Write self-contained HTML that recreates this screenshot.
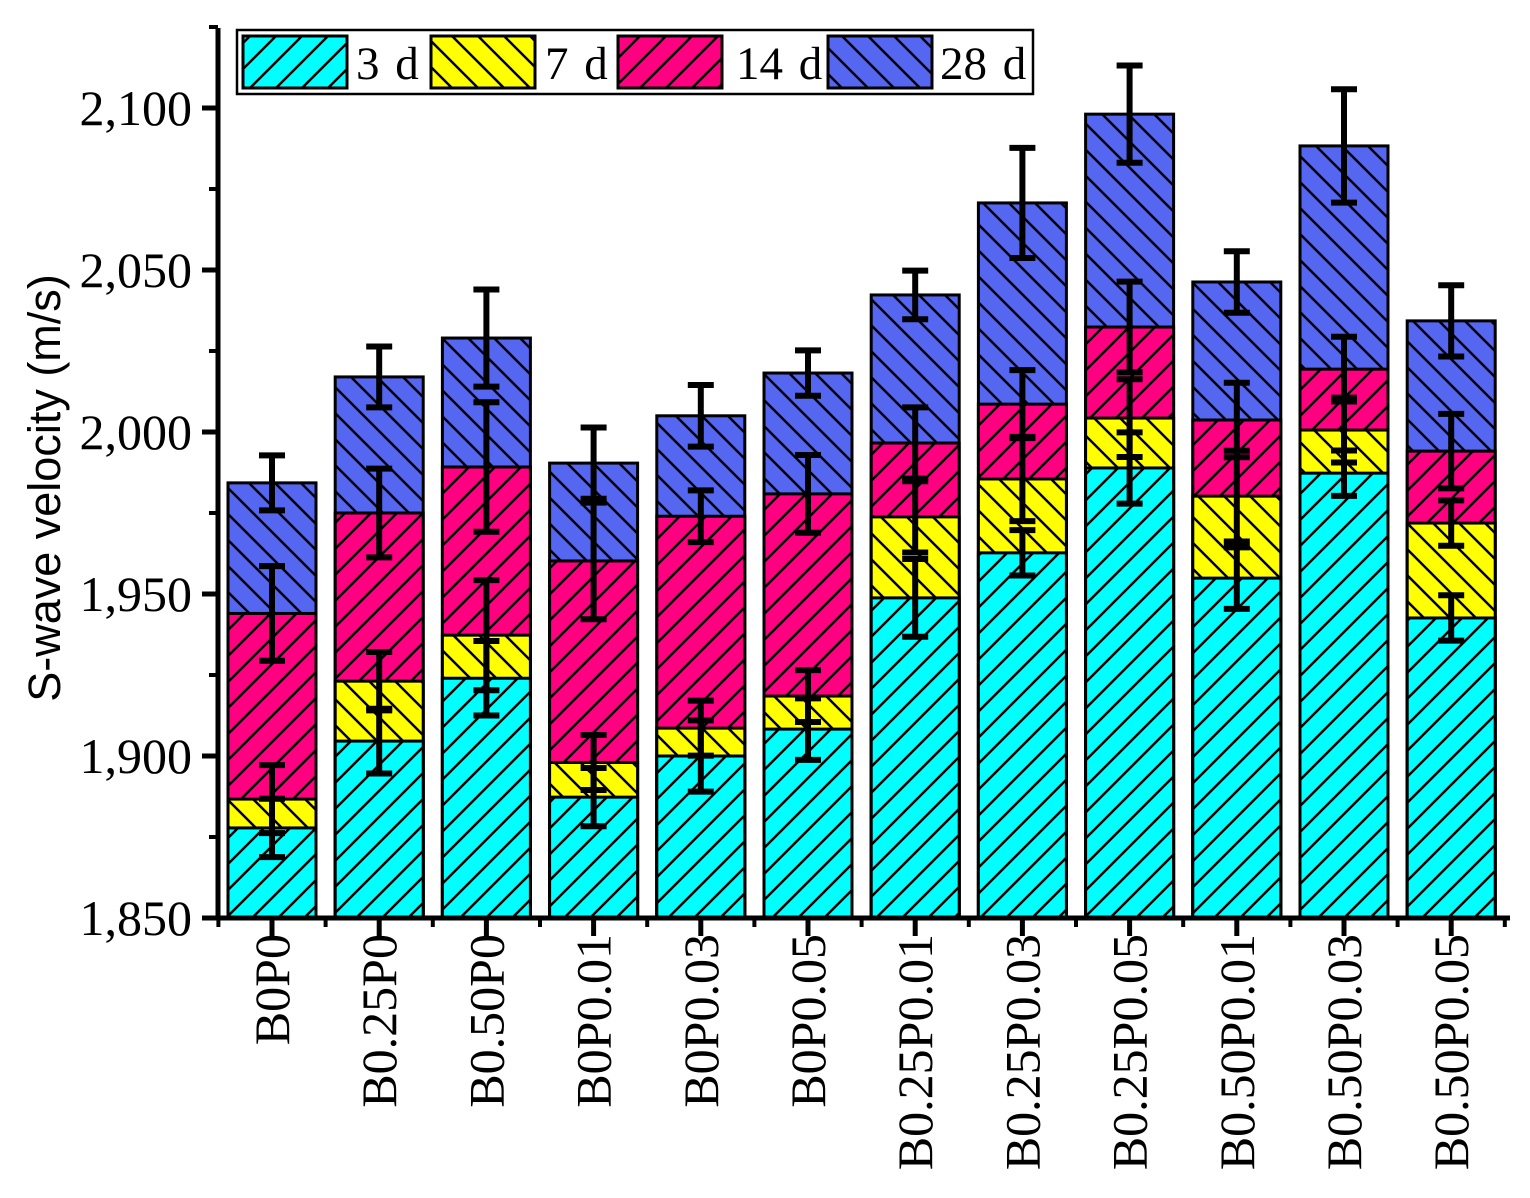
<!DOCTYPE html>
<html><head><meta charset="utf-8"><style>body{margin:0;background:#fff}svg{display:block}</style></head>
<body>
<svg id="chart" width="1530" height="1198" xmlns="http://www.w3.org/2000/svg">
<defs>
<pattern id="p3" patternUnits="userSpaceOnUse" width="26" height="26"><rect width="26" height="26" fill="#00FFFF"/><path d="M-6,32 L32,-6 M-19,19 L19,-19 M7,45 L45,7" stroke="#000" stroke-width="2.5"/></pattern>
<pattern id="p7" patternUnits="userSpaceOnUse" width="26" height="26"><rect width="26" height="26" fill="#FFFF00"/><path d="M-6,-6 L32,32 M-19,7 L19,45 M7,-19 L45,19" stroke="#000" stroke-width="2.5"/></pattern>
<pattern id="p14" patternUnits="userSpaceOnUse" width="26" height="26"><rect width="26" height="26" fill="#FF0080"/><path d="M-6,32 L32,-6 M-19,19 L19,-19 M7,45 L45,7" stroke="#000" stroke-width="2.5"/></pattern>
<pattern id="p28" patternUnits="userSpaceOnUse" width="26" height="26"><rect width="26" height="26" fill="#5566F0"/><path d="M-6,-6 L32,32 M-19,7 L19,45 M7,-19 L45,19" stroke="#000" stroke-width="2.5"/></pattern>
</defs>
<g id="bars"></g><g id="errs"></g><g id="axes"></g>
<text transform="translate(60,488) rotate(-90)" text-anchor="middle" font-family="Liberation Sans, sans-serif" font-size="45">S-wave velocity (m/s)</text>
<g>
<rect x="237" y="30" width="796" height="64" fill="#fff" stroke="#000" stroke-width="2.5"/>
<rect x="243" y="36" width="104" height="52" fill="url(#p3)" stroke="#000" stroke-width="3"/>
<text x="356" y="79" font-family="Liberation Serif, serif" font-size="47" word-spacing="4">3 d</text>
<rect x="431" y="36" width="104" height="52" fill="url(#p7)" stroke="#000" stroke-width="3"/>
<text x="545" y="79" font-family="Liberation Serif, serif" font-size="47" word-spacing="4">7 d</text>
<rect x="618" y="36" width="104" height="52" fill="url(#p14)" stroke="#000" stroke-width="3"/>
<text x="736" y="79" font-family="Liberation Serif, serif" font-size="47" word-spacing="4">14 d</text>
<rect x="828" y="36" width="104" height="52" fill="url(#p28)" stroke="#000" stroke-width="3"/>
<text x="940" y="79" font-family="Liberation Serif, serif" font-size="47" word-spacing="4">28 d</text>
</g>
</svg>
<script>
const categories=["B0P0","B0.25P0","B0.50P0","B0P0.01","B0P0.03","B0P0.05","B0.25P0.01","B0.25P0.03","B0.25P0.05","B0.50P0.01","B0.50P0.03","B0.50P0.05"];
const v3=[1877.8,1904.6,1924,1887.3,1900,1908.3,1948.8,1962.7,1988.9,1954.9,1987.3,1942.6];
const v7=[1886.7,1923.1,1937.3,1898,1908.6,1918.5,1973.8,1985.5,2004.3,1980.2,2000.6,1971.9];
const v14=[1944,1975,1989.2,1960.2,1974,1980.9,1996.6,2008.6,2032.4,2003.7,2019.4,1994.1];
const v28=[1984.3,2017,2029,1990.4,2005,2018.2,2042.3,2070.7,2098.1,2046.3,2088.3,2034.3];
const e3=[9,10,11.5,9,11,9.5,12,7,11,9.5,7,7];
const e7=[10.5,9,17,8.5,8.5,8,11,13,12,14,10,7];
const e14=[14.6,13.7,20,18,8,12,11,10.5,14,11.5,10,11.5];
const e28=[8.5,9.4,15,11,9.5,7,7.5,17,15,9.5,17.5,11];
const yTicks=[1850,1900,1950,2000,2050,2100];
const yTickLabels=["1,850","1,900","1,950","2,000","2,050","2,100"];
const NS="http://www.w3.org/2000/svg";
const X0=218,Y0=918,YMIN=1850,PPU=3.24,C0=272,STEP=107.2,BW=88;
const y=v=>Y0-(v-YMIN)*PPU;
const x=i=>C0+i*STEP;
function mk(tag,attrs,parent){const e=document.createElementNS(NS,tag);for(const k in attrs)e.setAttribute(k,attrs[k]);parent.appendChild(e);return e;}
const bars=document.getElementById('bars'),errs=document.getElementById('errs'),axes=document.getElementById('axes');
const series=[["28d",v28,e28,"p28"],["14d",v14,e14,"p14"],["7d",v7,e7,"p7"],["3d",v3,e3,"p3"]];
series.forEach(([nm,vals,er,pat])=>{
  vals.forEach((v,i)=>{
    const r=mk('rect',{x:x(i)-BW/2,y:y(v),width:BW,height:Y0-y(v),fill:`url(#${pat})`,stroke:'#000','stroke-width':3},bars);
    
    
  });
});
series.forEach(([nm,vals,er])=>{
  vals.forEach((v,i)=>{
    const g=mk('g',{stroke:'#000','stroke-width':6},errs);
    
    
    const cx=x(i),t=y(v+er[i]),b=y(v-er[i]);
    mk('line',{x1:cx,x2:cx,y1:t,y2:b},g);
    mk('line',{x1:cx-13,x2:cx+13,y1:t,y2:t},g);
    mk('line',{x1:cx-13,x2:cx+13,y1:b,y2:b},g);
  });
});
const ya=mk('line',{x1:X0,x2:X0,y1:28,y2:Y0+2,stroke:'#000','stroke-width':5},axes);

const xa=mk('line',{x1:X0-16,x2:1510,y1:Y0,y2:Y0,stroke:'#000','stroke-width':5},axes);

yTicks.forEach((t,i)=>{
  mk('line',{x1:X0-16,x2:X0,y1:y(t),y2:y(t),stroke:'#000','stroke-width':5},axes);
  if(i<yTicks.length-1) mk('line',{x1:X0-9,x2:X0,y1:y(t+25),y2:y(t+25),stroke:'#000','stroke-width':4},axes);
  const tx=mk('text',{x:192,y:y(t)+17,'text-anchor':'end','font-family':'Liberation Serif, serif','font-size':50},axes);
  
  
  tx.textContent=yTickLabels[i];
});
mk('line',{x1:X0-9,x2:X0,y1:y(2125),y2:y(2125),stroke:'#000','stroke-width':4},axes);
categories.forEach((c,i)=>{
  mk('line',{x1:x(i),x2:x(i),y1:Y0,y2:Y0+18,stroke:'#000','stroke-width':5},axes);
  mk('line',{x1:x(i)+STEP/2,x2:x(i)+STEP/2,y1:Y0,y2:Y0+9,stroke:'#000','stroke-width':4},axes);
  const tx=mk('text',{transform:`translate(${x(i)+17},934) rotate(-90)`,'text-anchor':'end','font-family':'Liberation Serif, serif','font-size':50},axes);
  
  
  tx.textContent=c;
});
mk('line',{x1:C0-STEP/2,x2:C0-STEP/2,y1:Y0,y2:Y0+9,stroke:'#000','stroke-width':4},axes);
</script>
</body></html>
